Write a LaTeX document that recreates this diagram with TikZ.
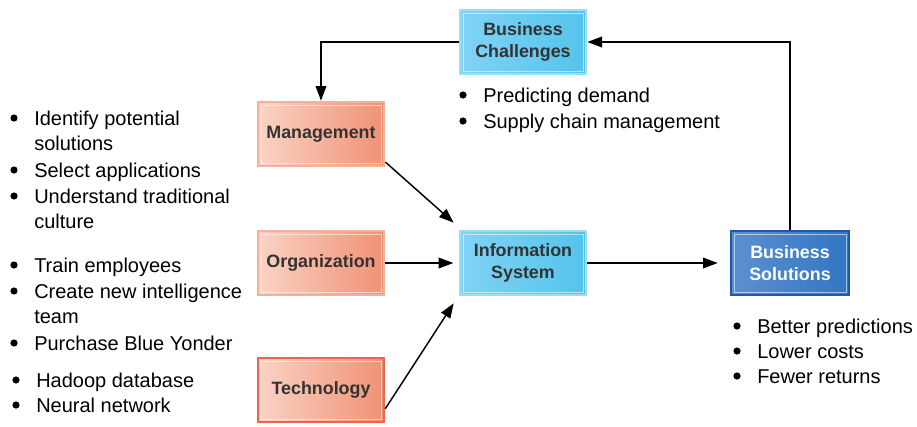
\documentclass[tikz,border=0pt]{standalone}
\usepackage{fontspec}
\setmainfont{Liberation Sans}
\usetikzlibrary{arrows.meta}
\definecolor{skyfill}{HTML}{55C3EC}
\definecolor{skylight}{HTML}{80D3F4}
\definecolor{skyedge}{HTML}{9EDDF6}
\definecolor{peachL}{HTML}{FAD3C4}
\definecolor{peachR}{HTML}{F19174}
\definecolor{peachedge}{HTML}{F5B09A}
\definecolor{rededge}{HTML}{EC6552}
\definecolor{navyfill}{HTML}{3275C4}
\definecolor{navyedge}{HTML}{1F59A8}
\definecolor{labelgray}{HTML}{333333}
\tikzset{
  box/.style={rectangle,minimum width=94.5pt,minimum height=48pt,line width=2pt,
    font=\bfseries\fontsize{13.4}{17}\selectfont,align=center,text=labelgray,
    path picture={\draw[white,opacity=.55,line width=.6pt]
      ([xshift=2.2pt,yshift=-2.2pt]path picture bounding box.north west) rectangle
      ([xshift=-2.2pt,yshift=2.2pt]path picture bounding box.south east);}},
  skybox/.style={box,draw=skyedge,left color=skylight,right color=skyfill},
  peachbox/.style={box,draw=peachedge,left color=peachL,right color=peachR},
  navybox/.style={box,minimum width=88.5pt,draw=navyedge,left color=navyfill!80!white,right color=navyfill,text=white},
  flow/.style={line width=1.1pt,-{Triangle[length=11pt,width=8pt]}},
  itemtxt/.style={anchor=base west,inner sep=0pt,font=\fontsize{15}{18.75}\selectfont}
}
% bullet at (#2,#3), text to its right (first line on the baseline)
\newcommand{\bitem}[4]{%
  \fill (#2,#3) circle (3.6);
  \node[itemtxt] (#1) at (#2+20,#3+7) {\begin{tabular}[t]{@{}l@{}}#4\end{tabular}};
}

\begin{document}
\begin{tikzpicture}[x=0.75pt,y=-0.75pt]
  \useasboundingbox (0,0) rectangle (917,426);
  % boxes
  \node[skybox] (chal) at (523,42) {Business\\Challenges};
  \node[peachbox] (mgmt) at (321,134) {Management};
  \node[peachbox] (org) at (321,263) {Organization};
  \node[peachbox,draw=rededge] (tech) at (321,390) {Technology};
  \node[skybox] (info) at (523,263) {Information\\System};
  \node[navybox] (sol) at (790,263) {Business\\Solutions};
  % arrows
  \draw[flow] (sol.north) |- (chal.east);
  \draw[flow] (chal.west) -| (mgmt.north);
  \draw[flow] ([yshift=4pt]mgmt.south east) -- ([shift={(-5,-7)}]info.north west);
  \draw[flow] (org.east) -- ([xshift=-4pt]info.west);
  \draw[flow] ([yshift=-14pt]tech.east) -- ([shift={(-5,7)}]info.south west);
  \draw[flow,shorten >=9pt] (info.east) -- (sol.west);
  % lists
  \bitem{l1}{14}{118}{Identify potential\\solutions}
  \bitem{l2}{14}{170}{Select applications}
  \bitem{l3}{14}{196}{Understand traditional\\culture}
  \bitem{l4}{14}{265}{Train employees}
  \bitem{l5}{14}{291}{Create new intelligence\\team}
  \bitem{l6}{14}{343}{Purchase Blue Yonder}
  \bitem{l7}{16}{380}{Hadoop database}
  \bitem{l8}{16}{405}{Neural network}
  \bitem{c1}{463}{95}{Predicting demand}
  \bitem{c2}{463}{121}{Supply chain management}
  \bitem{s1}{737}{326}{Better predictions}
  \bitem{s2}{737}{351}{Lower costs}
  \bitem{s3}{737}{376}{Fewer returns}
\end{tikzpicture}
\end{document}
